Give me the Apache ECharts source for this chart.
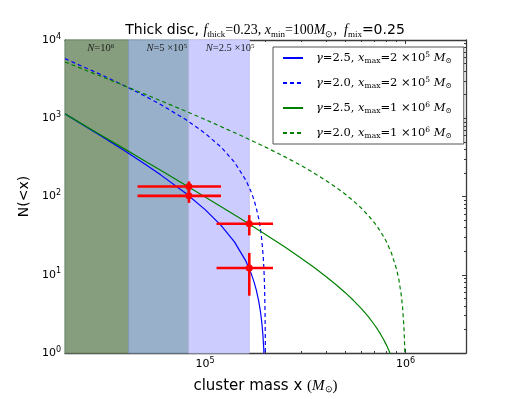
<!DOCTYPE html>
<html>
<head>
<meta charset="utf-8">
<script src="https://cdn.jsdelivr.net/npm/echarts@6/dist/echarts.min.js"></script>
<style>
  html, body { margin: 0; padding: 0; background: #fff; }
  #chart { width: 518px; height: 399px; }
</style>
</head>
<body>
<div id="chart"></div>
<script>
  // model curves N(>x)
  const massBlueSolid = [2e4, 3e4, 4e4, 5e4, 6e4, 8e4, 1e5, 1.2e5, 1.4e5, 1.6e5, 1.7e5, 1.75e5, 1.8e5, 1.85e5, 1.88e5, 1.9e5, 1.92e5, 1.94e5, 1.96e5, 1.97e5];
  const nBlueSolid = [1137, 602, 378, 260, 189, 110, 67.9, 42.7, 26.3, 14.8, 10.2, 8.23, 6.36, 4.6, 3.61, 2.97, 2.34, 1.74, 1.14, 0.85];

  const massBlueDash = [2e4, 3e4, 4e4, 5e4, 6e4, 8e4, 1e5, 1.2e5, 1.4e5, 1.6e5, 1.7e5, 1.75e5, 1.8e5, 1.85e5, 1.88e5, 1.9e5, 1.92e5, 1.95e5, 1.96e5, 1.97e5, 1.98e5, 1.99e5, 1.995e5, 1.999e5];
  const nBlueDash = [5778, 3638, 2568, 1926, 1498, 963, 642, 428, 275, 160, 113, 91.7, 71, 52, 41, 34, 26.7, 16.5, 13.1, 9.8, 6.5, 3.2, 1.6, 0.3];

  const massGreenSolid = [2e4, 3e4, 4e4, 5e4, 6e4, 8e4, 1e5, 1.5e5, 2e5, 2.5e5, 3e5, 3.5e5, 4e5, 4.5e5, 5e5, 5.5e5, 6e5, 6.5e5, 7e5, 7.25e5, 7.5e5, 7.75e5, 8e5, 8.25e5, 8.5e5];
  const nGreenSolid = [1137, 617, 400, 285, 216, 139, 98.8, 52.3, 32.8, 22.6, 16.4, 12.35, 9.52, 7.46, 5.9, 4.68, 3.71, 2.93, 2.28, 2.0, 1.74, 1.5, 1.28, 1.08, 0.89];

  const massGreenDash = [2e4, 3e4, 4e4, 5e4, 6e4, 8e4, 1e5, 1.5e5, 2e5, 2.5e5, 3e5, 3.5e5, 4e5, 4.5e5, 5e5, 5.5e5, 6e5, 6.5e5, 7e5, 7.5e5, 8e5, 8.5e5, 9e5, 9.25e5, 9.5e5, 9.65e5, 9.8e5, 9.85e5, 9.9e5, 9.95e5];
  const nGreenDash = [5243, 3460, 2568, 2033, 1676, 1230, 963, 606, 428, 321, 250, 198.7, 160, 130.8, 107, 87.5, 71.3, 57.6, 45.9, 35.7, 26.8, 18.9, 11.9, 8.68, 5.6, 3.88, 2.18, 1.63, 1.08, 0.54];

  // observed counts with error bars
  const obsMass = [8.3e4, 8.3e4, 1.66e5, 1.66e5];
  const obsN = [134, 102, 44.8, 12.2];
  const obsMassErr = [3.7e4, 3.7e4, 5.2e4, 5.2e4];
  const obsNErr = [22, 19, 13, 6.8];

  // shaded completeness bands
  const bandEdges = [2e4, 4.15e4, 8.3e4, 1.66e5];
  const bandLabels = ['{i|N}=10{sup|6}', '{i|N}=5 ×10{sup|5}', '{i|N}=2.5 ×10{sup|5}'];
  const bandColors = ['#869e7e', '#98b0c9', '#ccccfe'];
  const bandBorders = ['#6f8a68', '#8499b5', '#c4c4f4'];
  const bandLabelShift = [4, 8, 11];

  // axis ticks
  const xMajor = [1e5, 1e6];
  const xMinor = [3e4, 4e4, 5e4, 6e4, 7e4, 8e4, 9e4, 2e5, 3e5, 4e5, 5e5, 6e5, 7e5, 8e5, 9e5];
  const yMajor = [1, 10, 100, 1000, 10000];
  const yMinor = [];
  [1, 10, 100, 1000].forEach(d => { for (let k = 2; k <= 9; k++) yMinor.push(k * d); });

  const seriesNames = ['bs', 'bd', 'gs', 'gd'];
  const legendText = {
    bs: '{sp|}{i|γ}=2.5, {i|x}{sub|max}=2 ×10{sup|5} {i|M}{sub|⊙}',
    bd: '{sp|}{i|γ}=2.0, {i|x}{sub|max}=2 ×10{sup|5} {i|M}{sub|⊙}',
    gs: '{sp|}{i|γ}=2.5, {i|x}{sub|max}=1 ×10{sup|6} {i|M}{sub|⊙}',
    gd: '{sp|}{i|γ}=2.0, {i|x}{sub|max}=1 ×10{sup|6} {i|M}{sub|⊙}'
  };

  const SANS = 'DejaVu Sans';
  const SERIF = 'Liberation Serif';
  const LSERIF = 'DejaVu Serif';
  const FRAME = '#3a3a3a';

  function zip(xs, ys) { return xs.map((x, i) => [x, ys[i]]); }
  function pow10Label(v) {
    return '10{sup|' + Math.round(Math.log10(v)) + '}';
  }

  function axisPair(kind, position, show) {
    const lbl = show === 'label';
    const base = {
      type: 'log', logBase: 10, position: position,
      splitLine: { show: false },
      axisLine: { show: true, lineStyle: { color: FRAME, width: 1.3 } }
    };
    const major = Object.assign({}, base, {
      axisTick: { show: true, inside: true, length: 4, lineStyle: { color: FRAME }, customValues: kind === 'x' ? xMajor : yMajor },
      axisLabel: lbl ? {
        show: true, customValues: kind === 'x' ? xMajor : yMajor, formatter: pow10Label,
        fontFamily: SANS, fontSize: 11, color: '#000', margin: 4, lineHeight: 15,
        rich: { sup: { fontFamily: SANS, fontSize: 8, lineHeight: 8, verticalAlign: 'top' } }
      } : { show: false }
    });
    const minor = Object.assign({}, base, {
      axisLine: { show: false },
      axisTick: { show: true, inside: true, length: 2, lineStyle: { color: FRAME }, customValues: kind === 'x' ? xMinor : yMinor },
      axisLabel: { show: false }
    });
    return [major, minor];
  }

  const chart = echarts.init(document.getElementById('chart'));

  const xAxes = [].concat(axisPair('x', 'bottom', 'label'), axisPair('x', 'top', 'none'));
  xAxes.forEach(a => { a.min = 2e4; a.max = 2e6; });
  xAxes[0].name = 'cluster mass x {m|(}{i|M}{sub|⊙}{m|)}';
  xAxes[0].nameLocation = 'middle';
  xAxes[0].nameGap = 26;
  xAxes[0].nameTextStyle = {
    fontFamily: SANS, fontSize: 15, color: '#000',
    rich: {
      m: { fontFamily: SERIF, fontSize: 15 },
      i: { fontFamily: SERIF, fontStyle: 'italic', fontSize: 15 },
      sub: { fontFamily: SERIF, fontSize: 9, lineHeight: 8, verticalAlign: 'bottom' }
    }
  };

  const yAxes = [].concat(axisPair('y', 'left', 'label'), axisPair('y', 'right', 'none'));
  yAxes.forEach(a => { a.min = 1; a.max = 1e4; });
  yAxes[0].name = 'N(<x)';
  yAxes[0].nameLocation = 'middle';
  yAxes[0].nameGap = 27;
  yAxes[0].nameTextStyle = { fontFamily: SANS, fontSize: 14, color: '#000' };

  const lineSeries = [
    { name: 'bs', mass: massBlueSolid, n: nBlueSolid, color: '#0000ff', type: 'solid' },
    { name: 'bd', mass: massBlueDash, n: nBlueDash, color: '#0000ff', type: [4, 3] },
    { name: 'gs', mass: massGreenSolid, n: nGreenSolid, color: '#008000', type: 'solid' },
    { name: 'gd', mass: massGreenDash, n: nGreenDash, color: '#008000', type: [4, 3] }
  ].map(s => ({
    name: s.name,
    type: 'line',
    data: zip(s.mass, s.n),
    showSymbol: false,
    symbol: 'none',
    smooth: false,
    clip: true,
    z: 3,
    color: s.color,
    lineStyle: { color: s.color, width: 1.2, type: s.type },
    emphasis: { disabled: true }
  }));

  const bandSeries = {
    name: 'bands',
    type: 'line',
    data: [],
    z: 1,
    markArea: {
      silent: true,
      data: bandLabels.map((lab, i) => [
        {
          xAxis: bandEdges[i],
          itemStyle: { color: bandColors[i], borderColor: bandBorders[i], borderWidth: 1 },
          label: { show: true, formatter: lab, offset: [bandLabelShift[i], 1] }
        },
        { xAxis: bandEdges[i + 1] }
      ]),
      label: {
        position: 'insideTop', distance: 2,
        fontFamily: SERIF, fontSize: 10.5, color: '#222',
        rich: {
          i: { fontFamily: SERIF, fontStyle: 'italic', fontSize: 10.5 },
          sup: { fontFamily: SERIF, fontSize: 7, lineHeight: 7, verticalAlign: 'top' }
        }
      }
    }
  };

  const errSeries = {
    name: 'obs',
    type: 'custom',
    z: 5,
    data: obsMass.map((m, i) => [m, obsN[i], obsMassErr[i], obsNErr[i]]),
    encode: { x: 0, y: 1 },
    renderItem: function (params, api) {
      const x = api.value(0), y = api.value(1), dx = api.value(2), dy = api.value(3);
      const l = api.coord([x - dx, y]);
      const r = api.coord([x + dx, y]);
      const t = api.coord([x, y + dy]);
      const b = api.coord([x, y - dy]);
      const st = { stroke: '#ff0000', lineWidth: 2.6 };
      return {
        type: 'group',
        children: [
          { type: 'line', shape: { x1: l[0], y1: l[1], x2: r[0], y2: r[1] }, style: st },
          { type: 'line', shape: { x1: t[0], y1: t[1], x2: b[0], y2: b[1] }, style: st }
        ]
      };
    }
  };

  const dotSeries = {
    name: 'dots',
    type: 'scatter',
    z: 6,
    data: zip(obsMass, obsN),
    symbolSize: 7,
    itemStyle: { color: '#ff0000', opacity: 1 }
  };

  chart.setOption({
    animation: false,
    backgroundColor: '#fff',
    title: {
      text: 'Thick disc, {i|f}{sub|thick}{m|=0.23, }{i|x}{sub|min}{m|=100}{i|M}{sub|⊙}{m|,  }{i|f}{sub|mix}=0.25',
      left: 265, top: 22,
      textAlign: 'center',
      padding: 0,
      textStyle: {
        fontFamily: SANS, fontSize: 14, fontWeight: 'normal', color: '#000', lineHeight: 17,
        rich: {
          m: { fontFamily: SERIF, fontSize: 14 },
          i: { fontFamily: SERIF, fontStyle: 'italic', fontSize: 14 },
          sub: { fontFamily: SERIF, fontSize: 9, lineHeight: 9, verticalAlign: 'bottom' }
        }
      }
    },
    grid: { left: 65, right: 52, top: 40, bottom: 40, containLabel: false },
    legend: {
      data: seriesNames,
      orient: 'vertical',
      left: 273, top: 47,
      padding: [4, 12, 4, 9],
      itemGap: 11,
      itemWidth: 20,
      itemHeight: 10,
      backgroundColor: '#fff',
      borderColor: '#555',
      borderWidth: 1,
      borderRadius: 0,
      selectedMode: false,
      itemStyle: { opacity: 0, borderWidth: 0 },
      formatter: name => legendText[name],
      textStyle: {
        fontFamily: LSERIF, fontSize: 11.5, color: '#000', lineHeight: 14,
        rich: {
          sp: { width: 8 },
          i: { fontFamily: LSERIF, fontStyle: 'italic', fontSize: 11.5 },
          sub: { fontFamily: LSERIF, fontSize: 7.5, lineHeight: 7, verticalAlign: 'bottom' },
          sup: { fontFamily: LSERIF, fontSize: 7.5, lineHeight: 7, verticalAlign: 'top' }
        }
      }
    },
    xAxis: xAxes,
    yAxis: yAxes,
    series: [bandSeries].concat(lineSeries, [errSeries, dotSeries])
  });
</script>
</body>
</html>
